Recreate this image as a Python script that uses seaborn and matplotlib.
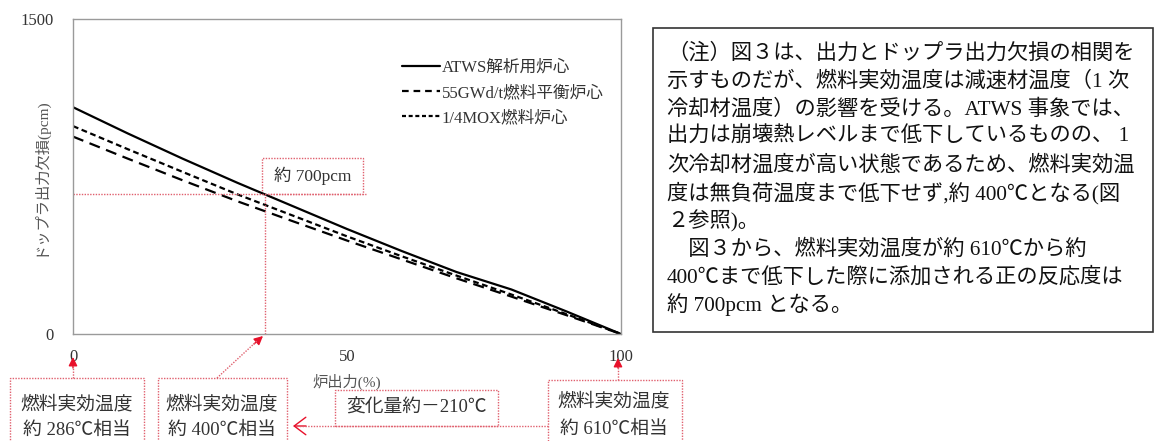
import numpy as np
import pandas as pd
import matplotlib
matplotlib.use("Agg")
import matplotlib.pyplot as plt
import seaborn as sns
from matplotlib.patches import Rectangle, FancyArrowPatch
from matplotlib.lines import Line2D

# ---- data ----
power = [0, 10, 20, 30, 40, 50, 60, 70, 80, 90, 100]
atws = [1080, 955, 835, 720, 610, 500, 395, 295, 212, 108, 0]
gwd55 = [940, 835, 732, 632, 538, 445, 355, 265, 178, 90, 0]
mox = [990, 880, 772, 665, 565, 465, 370, 278, 188, 95, 0]
series_names = ["ATWS解析用炉心", "55GWd/t燃料平衡炉心", "1/4MOX燃料炉心"]
x_ticks = [0, 50, 100]
y_ticks = [0, 1500]
mark_power = 35

note_lines = [
    "（注）図３は、出力とドップラ出力欠損の相関を",
    "示すものだが、燃料実効温度は減速材温度（1 次",
    "冷却材温度）の影響を受ける。ATWS 事象では、",
    "出力は崩壊熱レベルまで低下しているものの、 1",
    "次冷却材温度が高い状態であるため、燃料実効温",
    "度は無負荷温度まで低下せず,約 400℃となる(図",
    "２参照)。",
    "　図３から、燃料実効温度が約 610℃から約",
    "400℃まで低下した際に添加される正の反応度は",
    "約 700pcm となる。",
]

df = pd.DataFrame({
    "power": power * 3,
    "value": atws + gwd55 + mox,
    "series": [series_names[0]] * len(power) + [series_names[1]] * len(power) + [series_names[2]] * len(power),
})

sns.set_theme(style="white")
FONT = ["Liberation Serif", "Noto Sans CJK JP"]
plt.rcParams["font.family"] = FONT

W, H = 1155, 441
fig = plt.figure(figsize=(W / 100, H / 100), dpi=100)
fig.patch.set_facecolor("white")

def fx(x):
    return x / W

def fy(y):
    return 1 - y / H

ax = fig.add_axes([fx(73), fy(334), fx(621) - fx(73), fy(19) - fy(334)])

sns.lineplot(data=df, x="power", y="value", style="series", style_order=series_names,
             dashes={series_names[0]: "", series_names[1]: (5, 3), series_names[2]: (2.6, 1.6)},
             color="black", linewidth=1.6, ax=ax, legend=False)

ax.set_xlim(0, 100)
ax.set_ylim(0, 1500)
ax.set_xticks(x_ticks)
ax.set_yticks(y_ticks)
ax.set_xticklabels([str(v) for v in x_ticks], fontsize=12, color="#333333")
ax.set_yticklabels([str(v) for v in y_ticks], fontsize=12, color="#333333")
ax.tick_params(axis="y", length=0, pad=14)
ax.tick_params(axis="x", length=3, direction="in", color="#aaaaaa", pad=11)
for s in ax.spines.values():
    s.set_color("#9a9a9a")
    s.set_linewidth(1.0)
ax.set_xlabel("炉出力(%)", fontsize=11, color="#555555", labelpad=6)
ax.set_ylabel("ドップラ出力欠損(pcm)", fontsize=11, color="#555555")
ax.yaxis.set_label_coords((47 - 73) / 548, 0.5)

handles = [Line2D([], [], color="black", lw=1.6, ls="-"),
           Line2D([], [], color="black", lw=1.6, dashes=(3, 2.2)),
           Line2D([], [], color="black", lw=1.6, dashes=(1.8, 1.2))]
leg = ax.legend(handles, series_names, loc="upper left", bbox_to_anchor=(fx(395), fy(53)),
                bbox_transform=fig.transFigure, frameon=False, fontsize=12,
                handlelength=2.3, handletextpad=0.1, labelspacing=0.55, borderaxespad=0)
for t in leg.get_texts():
    t.set_color("#333333")

red = "#e8102a"
red_line = "#e0606e"
dot = (0, (1, 1))

# crosshair at marked power
mark_val = float(np.interp(mark_power, power, atws))
ax.plot([0, mark_power + 18.4], [mark_val, mark_val], color=red_line, lw=1, ls=dot)
ax.plot([mark_power, mark_power], [0, mark_val], color=red_line, lw=1, ls=dot)
ax.add_patch(Rectangle((mark_power - 0.5, mark_val), 18.4, 172, fill=False, edgecolor=red_line, lw=1, ls=dot))
ax.text(mark_power + 8.7, mark_val + 86, "約 700pcm", ha="center", va="center", fontsize=12.5, color="#333333")

def fline(x1, y1, x2, y2):
    fig.add_artist(Line2D([fx(x1), fx(x2)], [fy(y1), fy(y2)], transform=fig.transFigure,
                          color=red_line, lw=1, ls=dot))

def fbox(x1, y1, x2, y2):
    fig.add_artist(Rectangle((fx(x1), fy(y2)), fx(x2) - fx(x1), fy(y1) - fy(y2), transform=fig.transFigure,
                             fill=False, edgecolor=red_line, lw=1, ls=dot))

def fhead(xb, yb, xt, yt, style="-|>", ms=13):
    fig.add_artist(FancyArrowPatch((fx(xb), fy(yb)), (fx(xt), fy(yt)), transform=fig.transFigure,
                                   arrowstyle=style, mutation_scale=ms, color=red, lw=1,
                                   shrinkA=0, shrinkB=0))

def ftext(x, y, s, size=13.5, color="#333333", ha="center"):
    fig.text(fx(x), fy(y), s, ha=ha, va="center", fontsize=size, color=color, family=FONT)

# bottom boxes
fbox(10, 378, 144, 446)
ftext(77, 405, "燃料実効温度")
ftext(77, 430, "約 286℃相当")
fline(73, 378, 73, 366)
fhead(73, 368, 73, 357)

fbox(158, 378, 287, 446)
ftext(222, 405, "燃料実効温度")
ftext(222, 430, "約 400℃相当")
fline(217, 378, 257, 341)
fhead(254, 344, 263, 336)

fbox(335, 390, 498, 426)
ftext(416, 408, "変化量約－210℃")

fbox(548, 380, 682, 446)
ftext(614, 402, "燃料実効温度")
ftext(614, 429, "約 610℃相当")
fline(618, 380, 618, 366)
fhead(618, 368, 618, 358)

fline(548, 426, 296, 426)
fhead(306, 426, 293, 426, style="->,head_length=0.6,head_width=0.45", ms=14)

# note box
fig.add_artist(Rectangle((fx(653), fy(332)), fx(1153) - fx(653), fy(28) - fy(332), transform=fig.transFigure,
                         fill=False, edgecolor="#333333", lw=1.2))
for i, line in enumerate(note_lines):
    fig.text(fx(667), fy(53 + 28 * i), line, ha="left", va="center", fontsize=15.3,
             color="#111111", family=FONT)

fig.savefig("out.png", dpi=100)
